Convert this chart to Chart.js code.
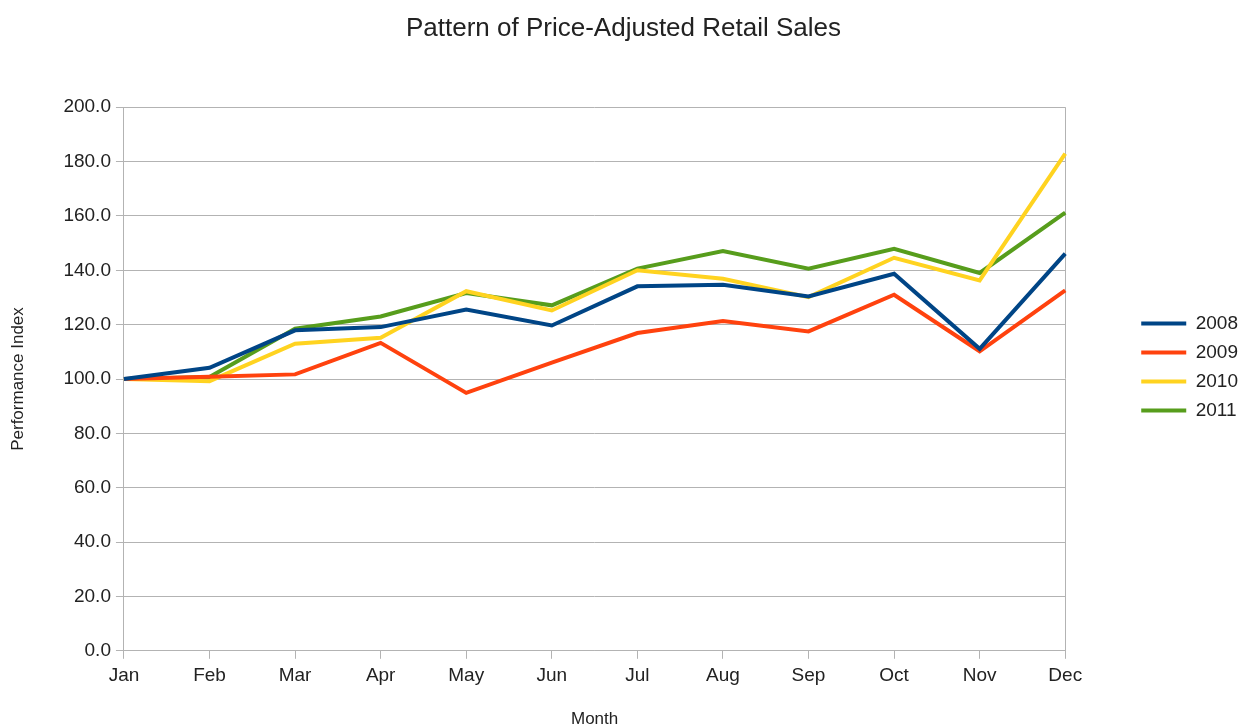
<!DOCTYPE html>
<html>
<head>
<meta charset="utf-8">
<title>Pattern of Price-Adjusted Retail Sales</title>
<script src="https://cdn.jsdelivr.net/npm/chart.js@4/dist/chart.umd.min.js"></script>
<style>
  html, body { margin: 0; padding: 0; background: #fff; }
  #wrap { width: 1239px; height: 724px; }
</style>
</head>
<body>
<div id="wrap"><canvas id="lineChart" width="1239" height="724"></canvas></div>
<script>
// 月份（x轴）
const months = ['Jan', 'Feb', 'Mar', 'Apr', 'May', 'Jun', 'Jul', 'Aug', 'Sep', 'Oct', 'Nov', 'Dec'];

// 各年份的指数（从图上读出来的）
const y2008 = [100.0, 104.1, 117.9, 119.1, 125.6, 119.7, 134.1, 134.7, 130.4, 138.7, 111.1, 146.1];
const y2009 = [100.0, 100.8, 101.7, 113.3, 94.9, 106.0, 116.9, 121.3, 117.5, 131.0, 110.2, 132.6];
const y2010 = [100.0, 99.2, 113.0, 115.2, 132.3, 125.2, 140.0, 136.9, 130.1, 144.6, 136.3, 182.9];
const y2011 = [100.0, 100.7, 118.5, 123.0, 131.6, 127.1, 140.6, 147.1, 140.6, 147.9, 139.0, 161.2];

const seriesNames = ['2008', '2009', '2010', '2011'];
const seriesColors = ['#004586', '#ff420e', '#ffd320', '#579d1c'];

// y轴刻度
const yMin = 0;
const yMax = 200;
const yStep = 20;

const gridColor = '#b3b3b3';
const textColor = '#222222';
Chart.defaults.font.family = '"Liberation Sans", Arial, sans-serif';

// 图例和图表之间留一点空，图例本身往右挪
const legendGap = {
    id: 'legendGap',
    beforeUpdate(chart) {
        const lg = chart.legend;
        if (!lg || lg._gapPatched) return;
        const fit = lg.fit;
        lg.fit = function () { fit.call(this); this.width += 57; };
        lg._gapPatched = true;
    },
    afterLayout(chart) {
        const lg = chart.legend;
        lg.left += 66;
        lg.top += 2;
        lg.bottom += 2;
    }
};

const allData = [y2008, y2009, y2010, y2011];

const ctx = document.getElementById('lineChart');
const lineChart = new Chart(ctx, {
    type: 'line',
    data: {
        labels: months,
        datasets: allData.map((d, i) => ({
            label: seriesNames[i],
            data: d,
            borderColor: seriesColors[i],
            backgroundColor: seriesColors[i],
            borderWidth: 4,
            pointRadius: 0,
            tension: 0,
            fill: false
        }))
    },
    options: {
        responsive: false,
        animation: false,
        layout: { padding: { left: 8, right: 0, top: 0, bottom: -6 } },
        plugins: {
            title: {
                display: true,
                text: 'Pattern of Price-Adjusted Retail Sales',
                color: textColor,
                font: { size: 26, weight: 'normal' },
                padding: { top: 13, bottom: 63 }
            },
            legend: {
                position: 'right',
                labels: {
                    color: textColor,
                    font: { size: 19 },
                    usePointStyle: true,
                    pointStyle: 'line',
                    pointStyleWidth: 45,
                    boxWidth: 45,
                    padding: 10
                }
            },
            tooltip: { enabled: false }
        },
        scales: {
            x: {
                offset: false,
                grid: {
                    color: (c) => (c.index === 0 || c.index === months.length - 1) ? gridColor : 'rgba(0,0,0,0)',
                    tickColor: gridColor,
                    tickLength: 8
                },
                border: { color: gridColor },
                ticks: { color: textColor, font: { size: 19 }, padding: 6, maxRotation: 0, autoSkip: false },
                title: {
                    display: true,
                    text: 'Month',
                    color: textColor,
                    font: { size: 17 },
                    padding: { top: 16, bottom: 0 }
                }
            },
            y: {
                min: yMin,
                max: yMax,
                grid: { color: gridColor, tickColor: gridColor, tickLength: 8 },
                border: { color: gridColor },
                ticks: {
                    stepSize: yStep,
                    color: textColor,
                    font: { size: 19 },
                    padding: 5,
                    callback: (v) => v.toFixed(1)
                },
                title: {
                    display: true,
                    text: 'Performance Index',
                    color: textColor,
                    font: { size: 17 },
                    padding: { top: 0, bottom: 30 }
                }
            }
        }
    },
    plugins: [legendGap]
});
</script>
</body>
</html>
